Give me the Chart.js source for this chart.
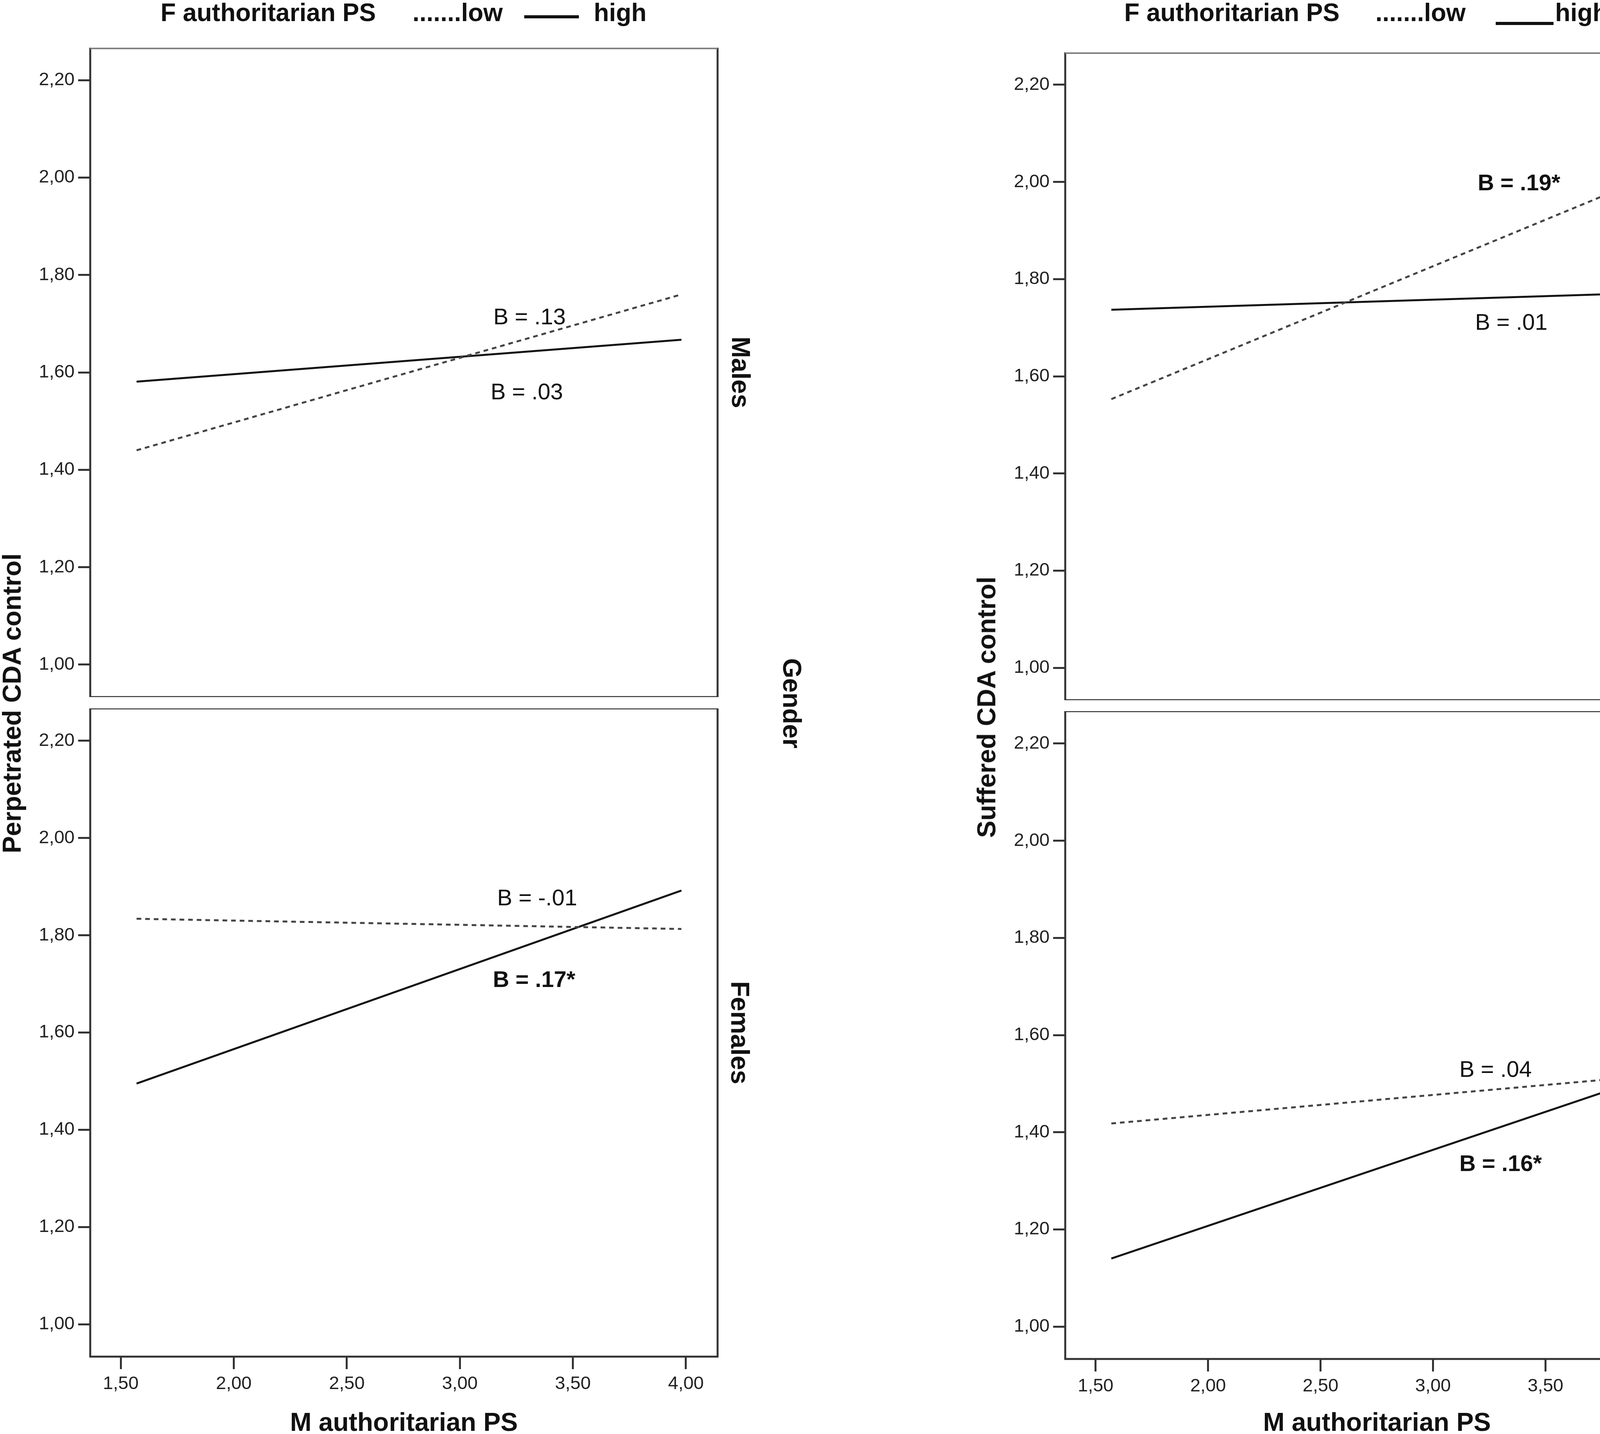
<!DOCTYPE html>
<html>
<head>
<meta charset="utf-8">
<script src="https://cdn.jsdelivr.net/npm/chart.js@4"></script>
<style>
  body { margin: 0; background: #fff; }
  #page { position: relative; width: 4550px; height: 3670px; background: #fff; overflow: hidden;
          font-family: 'Liberation Sans', Arial, sans-serif; color: #111; }
  canvas { position: absolute; }
  .lbl { position: absolute; font-weight: bold; line-height: 1; white-space: nowrap; }
  .rot { position: absolute; font-weight: bold; font-size: 66px; line-height: 1; white-space: nowrap;
         transform: translate(-50%, -50%) rotate(90deg); }
  .rotl { transform: translate(-50%, -50%) rotate(-90deg); }
  .legline { position: absolute; height: 8px; background: #111; }
</style>
</head>
<body>
<div id="page">
  <canvas id="c1"></canvas>
  <canvas id="c2"></canvas>
  <canvas id="c3"></canvas>
  <canvas id="c4"></canvas>

  <!-- headers -->
  <div class="lbl" style="left:411px; top:0px; font-size:64px;">F authoritarian PS</div>
  <div class="lbl" style="left:1056px; top:0px; font-size:64px;">.......low</div>
  <div class="legline" style="left:1342px; top:39px; width:140px;"></div>
  <div class="lbl" style="left:1520px; top:0px; font-size:64px;">high</div>

  <div class="lbl" style="left:2878px; top:0px; font-size:64px;">F authoritarian PS</div>
  <div class="lbl" style="left:3521px; top:0px; font-size:64px;">.......low</div>
  <div class="legline" style="left:3829px; top:56px; width:148px;"></div>
  <div class="lbl" style="left:3981px; top:0px; font-size:64px;">high</div>

  <!-- axis titles -->
  <div class="lbl" style="left:1034px; top:3606px; font-size:66px; transform:translateX(-50%);">M authoritarian PS</div>
  <div class="lbl" style="left:3525px; top:3606px; font-size:66px; transform:translateX(-50%);">M authoritarian PS</div>
  <div class="rot rotl" style="left:30px; top:1800px;">Perpetrated CDA control</div>
  <div class="rot rotl" style="left:2525px; top:1810px;">Suffered CDA control</div>

  <!-- panel labels -->
  <div class="rot" style="left:1897px; top:953px;">Males</div>
  <div class="rot" style="left:1895px; top:2643px;">Females</div>
  <div class="rot" style="left:2028px; top:1800px;">Gender</div>
  <div class="rot" style="left:4384px; top:963px;">Males</div>
  <div class="rot" style="left:4383px; top:2648px;">Females</div>
  <div class="rot" style="left:4517px; top:1808px;">Gender</div>
</div>

<script>
// data
const xLine = [1.57, 3.98];
const xTicks = [1.5, 2.0, 2.5, 3.0, 3.5, 4.0];
const yTicks = [1.0, 1.2, 1.4, 1.6, 1.8, 2.0, 2.2];

const perpMalesLow = [1.44, 1.76];
const perpMalesHigh = [1.581, 1.667];
const perpFemalesLow = [1.834, 1.813];
const perpFemalesHigh = [1.495, 1.892];

const suffMalesLow = [1.553, 2.014];
const suffMalesHigh = [1.737, 1.772];
const suffFemalesLow = [1.418, 1.517];
const suffFemalesHigh = [1.140, 1.517];

const FONT = "'Liberation Sans', Arial, sans-serif";
const Y_AXIS_W = 231;
const X_AXIS_H = 140;

function fmt(v) {
  return v.toFixed(2).replace('.', ',');
}

function pts(ys) {
  return ys.map((y, i) => ({ x: xLine[i], y: y }));
}

// frame + B labels
const panelDecor = {
  id: 'panelDecor',
  afterDatasetsDraw(chart, args, opts) {
    const ctx = chart.ctx;
    const xs = chart.scales.x, ys = chart.scales.y;
    ctx.save();
    ctx.fillStyle = '#111';
    ctx.textAlign = 'left';
    ctx.textBaseline = 'alphabetic';
    (opts.notes || []).forEach(n => {
      ctx.font = (n.bold ? 'bold ' : '') + '58px ' + FONT;
      ctx.fillText(n.text, xs.getPixelForValue(n.x), ys.getPixelForValue(n.y));
    });
    const a = chart.chartArea;
    ctx.strokeStyle = '#333';
    ctx.lineWidth = 5;
    ctx.strokeRect(a.left, a.top, a.right - a.left, a.bottom - a.top);
    if (opts.greyTop) {
      ctx.strokeStyle = '#808080';
      ctx.lineWidth = 8;
      ctx.beginPath();
      ctx.moveTo(a.left, a.top);
      ctx.lineTo(a.right, a.top);
      ctx.stroke();
    }
    ctx.restore();
  }
};

function makePanel(id, left, top, frameW, frameH, showX, low, high, notes) {
  const cv = document.getElementById(id);
  const xh = showX ? X_AXIS_H : 0;
  const w = frameW + Y_AXIS_W + 20;
  const h = frameH + xh;
  cv.width = w; cv.height = h;
  cv.style.left = (left - Y_AXIS_W) + 'px';
  cv.style.top = top + 'px';
  cv.style.width = w + 'px';
  cv.style.height = h + 'px';

  new Chart(cv.getContext('2d'), {
    type: 'line',
    data: {
      datasets: [
        { label: 'low', data: pts(low), borderColor: '#444', borderWidth: 5,
          borderDash: [12, 10], pointRadius: 0, fill: false },
        { label: 'high', data: pts(high), borderColor: '#111', borderWidth: 5,
          pointRadius: 0, fill: false }
      ]
    },
    options: {
      responsive: false,
      animation: false,
      devicePixelRatio: 1,
      layout: { padding: { left: 0, right: 20, top: 0, bottom: 0 } },
      plugins: {
        legend: { display: false },
        tooltip: { enabled: false },
        panelDecor: { notes: notes, greyTop: !showX }
      },
      scales: {
        x: {
          type: 'linear',
          min: 1.365,
          max: 4.14,
          display: showX,
          afterBuildTicks: s => { s.ticks = xTicks.map(v => ({ value: v })); },
          afterFit: s => { s.height = xh; s.paddingLeft = 0; s.paddingRight = 0; },
          border: { display: false },
          grid: { drawOnChartArea: false, tickLength: 32, tickWidth: 5, tickColor: '#333' },
          ticks: { color: '#222', padding: 10, maxRotation: 0, autoSkip: false,
                   font: { family: FONT, size: 47 }, callback: v => fmt(v) }
        },
        y: {
          type: 'linear',
          min: 0.9333,
          max: 2.2667,
          afterBuildTicks: s => { s.ticks = yTicks.map(v => ({ value: v })); },
          afterFit: s => { s.width = Y_AXIS_W; s.paddingTop = 0; s.paddingBottom = 0; },
          border: { display: false },
          grid: { drawOnChartArea: false, tickLength: 31, tickWidth: 5, tickColor: '#333' },
          ticks: { color: '#222', padding: 9, autoSkip: false,
                   font: { family: FONT, size: 47 }, callback: v => fmt(v) }
        }
      }
    },
    plugins: [panelDecor]
  });
}

makePanel('c1', 231, 122, 1606, 1662, false, perpMalesLow, perpMalesHigh, [
  { text: 'B = .13', x: 3.148, y: 1.699 },
  { text: 'B = .03', x: 3.136, y: 1.545 }
]);
makePanel('c2', 231, 1813, 1606, 1659, true, perpFemalesLow, perpFemalesHigh, [
  { text: 'B = -.01', x: 3.165, y: 1.862 },
  { text: 'B = .17*', x: 3.146, y: 1.694, bold: true }
]);
makePanel('c3', 2727, 134, 1598, 1658, false, suffMalesLow, suffMalesHigh, [
  { text: 'B = .19*', x: 3.199, y: 1.983, bold: true },
  { text: 'B = .01', x: 3.187, y: 1.696 }
]);
makePanel('c4', 2727, 1820, 1598, 1658, true, suffFemalesLow, suffFemalesHigh, [
  { text: 'B = .04', x: 3.117, y: 1.514 },
  { text: 'B = .16*', x: 3.117, y: 1.320, bold: true }
]);
</script>
</body>
</html>
